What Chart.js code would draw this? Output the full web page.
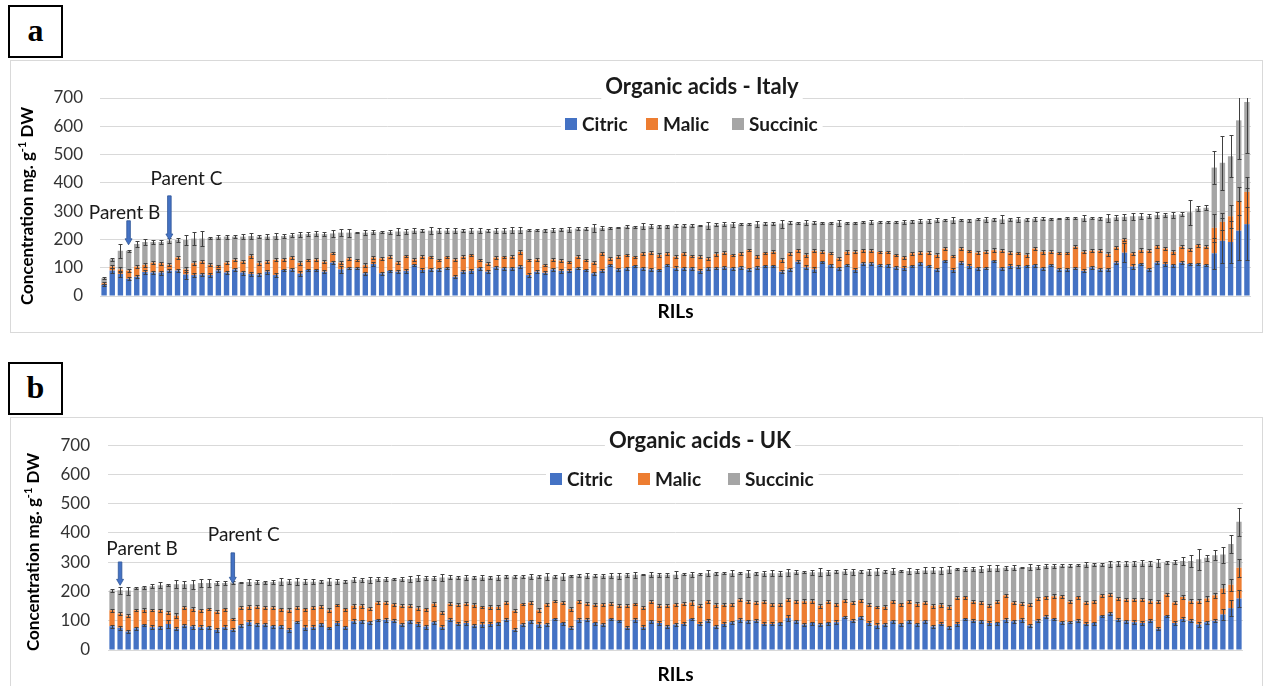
<!DOCTYPE html>
<html>
<head>
<meta charset="utf-8">
<script src="https://cdn.jsdelivr.net/npm/chart.js@4.4.1/dist/chart.umd.min.js"></script>
<style>
  html, body { margin: 0; padding: 0; background: #fff; }
  body { width: 1268px; height: 686px; position: relative; overflow: hidden; font-family: Lato, "Open Sans", sans-serif; }
  .tag { position: absolute; left: 8px; width: 51px; height: 49px; border: 2px solid #000;
         font: bold 32px "Liberation Serif", "Times New Roman", serif; text-align: center; line-height: 46px; color: #000; }
  .frame { position: absolute; left: 10px; width: 1253px; border: 1px solid #D9D9D9; box-sizing: border-box; }
  canvas { position: absolute; left: 10px; }
</style>
</head>
<body>
<div class="tag" style="top:5px">a</div>
<div class="frame" style="top:60px;height:273px"></div>
<canvas id="italy" width="1252" height="272" style="top:60px"></canvas>

<div class="tag" style="top:362px">b</div>
<div class="frame" style="top:417px;height:280px"></div>
<canvas id="uk" width="1252" height="269" style="top:417px"></canvas>

<script>
// ---- RIL lines (x categories, not labelled on the axis) ----
const rilLines = Array.from({ length: 141 }, (_, i) => 'RIL' + (i + 1));

// ---- Organic acids, Italy trial (mg g-1 DW) ----
const italyCitric = [
  39,90,78,61,68,85,83,83,90,90,
  76,74,76,74,90,83,94,83,78,76,
  86,74,92,94,79,92,92,86,118,94,
  98,98,80,113,80,89,86,89,109,92,
  94,94,98,68,86,89,98,86,101,98,
  98,104,74,86,82,94,89,89,98,92,
  80,89,109,94,98,106,98,94,92,109,
  98,98,98,89,98,98,101,98,101,94,
  101,106,106,86,94,121,101,94,121,109,
  98,109,92,115,115,109,109,101,99,106,
  116,106,94,125,92,118,106,98,98,125,
  98,106,104,106,109,98,109,94,94,98,
  89,101,94,94,118,153,104,113,94,118,
  113,109,118,113,113,109,151,195,191,231,254
];
const italyMalic = [
  6,14,16,29,36,25,35,33,20,46,
  18,42,46,36,16,35,34,39,64,40,
  36,54,38,43,38,35,37,35,33,24,
  35,29,29,23,53,50,33,52,20,47,
  45,33,41,61,53,56,29,29,35,41,
  41,52,53,43,27,35,36,32,41,35,
  38,62,24,45,47,33,53,59,53,42,
  41,53,43,50,35,50,52,47,50,68,
  40,47,50,41,57,41,44,66,35,42,
  35,47,64,47,45,47,47,44,38,45,
  38,47,51,43,49,50,54,55,58,37,
  62,47,49,39,59,58,47,59,59,76,
  67,59,66,54,54,47,47,49,66,58,
  55,47,56,52,67,65,90,67,91,105,114
];
const italySuccinic = [
  18,26,66,70,80,81,73,75,86,62,
  104,87,81,95,102,92,82,88,70,94,
  88,84,82,78,101,92,92,98,70,106,
  91,97,115,90,93,87,109,87,102,92,
  92,104,92,102,92,86,104,116,95,92,
  94,77,106,104,124,104,110,114,99,111,
  124,89,107,103,100,106,96,94,102,96,
  110,98,108,110,116,104,101,109,103,92,
  113,103,100,129,108,97,114,99,103,108,
  126,103,103,99,101,105,105,116,125,113,
  111,113,123,100,127,100,108,118,115,109,
  111,118,118,126,105,117,117,120,122,101,
  119,115,115,127,106,80,131,120,122,110,
  119,131,115,131,129,138,213,209,212,285,318
];
// standard errors, one per segment top
const italyCitricErr = [
  5,8,12,6,5,6,6,7,5,4,
  15,6,6,6,4,5,5,7,6,5,
  7,6,5,6,8,5,5,5,4,12,
  4,4,6,6,5,4,6,6,4,6,
  5,5,4,5,6,6,5,6,5,5,
  5,4,7,6,5,4,6,5,4,5,
  6,5,4,5,5,4,5,6,5,4,
  7,5,5,6,5,4,6,5,5,5,
  5,4,4,6,6,5,7,8,4,5,
  6,4,6,5,5,4,5,6,7,4,
  5,4,5,4,7,5,6,5,4,4,
  5,6,4,5,5,5,4,5,5,4,
  5,6,6,5,4,33,8,5,6,5,
  6,5,5,5,5,4,55,80,75,105,128
];
const italyMalicErr = [
  3,5,8,6,5,6,5,5,5,4,
  10,6,7,5,4,5,6,5,6,7,
  5,6,5,5,6,5,4,6,4,6,
  5,5,7,4,6,5,5,4,5,5,
  4,5,4,6,5,5,4,4,5,4,
  5,6,5,5,4,5,5,4,5,4,
  5,5,6,5,4,4,6,5,6,5,
  5,6,4,5,5,6,6,5,5,4,
  5,4,5,6,5,5,6,5,5,4,
  5,6,5,5,5,4,4,5,5,5,
  4,5,6,5,4,5,4,5,5,6,
  5,5,4,6,5,6,5,4,4,5,
  5,5,5,6,5,5,5,8,6,5,
  5,6,5,5,5,5,50,30,40,50,53
];
const italySuccinicErr = [
  3,5,25,4,10,12,6,8,10,8,
  18,22,27,5,6,7,5,9,10,6,
  10,9,7,6,8,7,8,6,12,12,
  14,3,10,8,5,6,12,10,8,6,
  12,9,10,8,6,10,8,5,9,8,
  10,10,3,4,5,8,6,10,5,6,
  14,8,4,3,6,4,10,6,5,5,
  5,5,6,3,13,6,6,9,4,3,
  11,5,4,14,5,3,9,6,4,3,
  10,3,4,4,6,3,4,3,6,5,
  8,7,7,3,10,4,5,4,8,6,
  14,5,8,6,7,5,4,2,3,4,
  10,3,5,14,8,10,12,10,8,12,
  8,10,7,45,8,8,59,95,75,135,180
];

// ---- Organic acids, UK trial (mg g-1 DW) ----
const ukCitric = [
  81,76,63,74,86,78,78,89,73,84,
  80,78,78,69,78,69,84,95,87,87,
  81,81,69,95,77,78,88,76,92,78,
  98,98,95,103,103,100,87,98,89,80,
  95,78,103,89,92,84,87,89,92,103,
  69,87,98,87,87,106,92,76,103,103,
  92,87,106,100,76,103,78,98,92,80,
  87,89,106,89,100,80,89,95,103,98,
  100,89,89,92,109,98,87,92,87,92,
  95,112,100,112,92,84,87,98,88,98,
  88,98,80,89,78,89,106,100,98,92,
  92,103,98,103,84,100,114,106,95,95,
  100,89,92,117,125,103,98,95,92,100,
  73,117,92,106,100,87,95,100,121,143,176
];
const ukMalic = [
  55,49,54,62,51,58,58,39,44,61,
  60,58,62,62,62,37,61,53,61,58,
  64,59,67,50,63,68,61,60,62,62,
  53,53,48,59,59,56,64,53,54,60,
  63,50,55,65,66,70,60,58,55,59,
  65,71,64,49,69,61,70,64,64,55,
  62,69,52,51,75,55,67,67,59,71,
  69,69,56,62,67,74,65,61,70,67,
  62,76,67,64,64,69,80,75,64,73,
  61,58,62,58,62,63,60,69,69,69,
  69,64,71,65,69,90,75,65,64,59,
  73,84,64,55,72,76,67,78,89,70,
  81,73,75,70,65,73,75,78,81,67,
  92,73,70,75,67,80,81,87,89,80,105
];
const ukSuccinic = [
  67,79,86,76,78,82,85,95,108,80,
  85,93,89,98,89,125,86,84,84,87,
  87,94,98,89,93,87,85,98,80,94,
  89,89,97,81,81,87,92,92,103,106,
  88,120,90,94,90,94,101,101,101,89,
  117,93,89,115,95,84,89,114,87,96,
  100,98,96,103,106,99,112,92,106,106,
  101,101,97,108,95,108,108,106,89,97,
  100,97,106,106,93,99,99,99,115,101,
  112,98,106,98,114,121,121,103,113,103,
  113,110,121,118,128,98,96,112,115,128,
  114,94,119,123,128,108,106,103,104,123,
  109,130,125,105,105,119,122,123,123,129,
  132,109,139,123,137,143,139,137,116,139,157
];
const ukCitricErr = [
  5,6,6,4,4,7,5,15,5,5,
  7,6,5,7,6,5,4,8,6,5,
  5,5,7,4,7,7,5,4,6,5,
  7,6,5,4,6,6,5,5,6,7,
  5,6,5,5,6,5,7,6,5,5,
  5,6,5,7,5,4,5,5,6,5,
  5,6,5,4,5,6,6,5,6,5,
  6,5,5,5,5,6,6,5,6,5,
  5,5,5,5,10,5,4,5,6,5,
  6,4,5,5,6,8,6,5,5,5,
  5,5,5,5,5,6,4,5,5,6,
  5,6,5,7,5,5,5,4,5,4,
  5,5,5,4,4,5,6,6,6,5,
  6,4,6,6,6,7,5,5,18,28,30
];
const ukMalicErr = [
  5,5,5,4,6,4,5,5,8,5,
  6,5,4,6,5,5,5,7,5,5,
  4,5,6,5,5,5,6,6,4,5,
  6,6,5,6,5,4,5,5,6,5,
  6,4,5,5,5,6,5,6,6,5,
  5,4,5,6,4,4,5,6,5,5,
  5,5,5,5,5,4,5,5,5,5,
  6,5,8,5,5,6,5,5,6,5,
  6,6,5,5,5,5,8,7,6,5,
  5,6,5,5,5,5,6,5,5,5,
  6,5,6,6,6,5,5,5,6,5,
  5,5,4,5,6,6,5,6,5,5,
  5,5,5,6,5,5,5,6,5,6,
  5,5,5,6,6,6,7,8,15,20,30
];
const ukSuccinicErr = [
  6,12,14,4,5,6,10,3,14,12,
  15,14,13,6,8,5,3,10,7,5,
  6,12,10,12,9,9,4,12,10,4,
  8,7,10,6,7,4,8,11,10,8,
  7,12,7,4,8,6,10,6,8,5,
  6,6,9,5,12,4,12,4,6,9,
  6,7,8,10,7,10,2,8,6,7,
  12,4,8,4,10,6,3,10,3,12,
  4,8,10,8,12,7,4,8,14,8,
  6,8,10,5,10,12,6,10,4,10,
  8,10,10,12,12,3,6,6,10,10,
  10,6,8,2,10,8,8,6,6,6,
  4,8,6,6,10,8,8,8,10,8,
  14,6,8,14,22,35,10,18,27,31,47
];

// ---- y axis ticks ----
const yTicks = [0, 100, 200, 300, 400, 500, 600, 700];

// ---- parental lines flagged with arrows (index into rilLines, values in mg g-1 DW) ----
const italyParents = [
  { label: 'Parent B', index: 3, tail: 266, tip: 181, textAt: 294, textShift: -4 },
  { label: 'Parent C', index: 8, tail: 354, tip: 198, textAt: 414, textShift: 17 }
];
const ukParents = [
  { label: 'Parent B', index: 1, tail: 301, tip: 221, textAt: 345, textShift: 22 },
  { label: 'Parent C', index: 15, tail: 332, tip: 228, textAt: 395, textShift: 11 }
];

const COLORS = { citric: '#4472C4', malic: '#ED7D31', succinic: '#A5A5A5' };
const FONT = 'Lato, "Open Sans", sans-serif';

// Error bars at the top of every stacked segment
const errorBars = {
  id: 'errorBars',
  afterDatasetsDraw(chart, args, opts) {
    const { ctx, chartArea: a, scales: { y } } = chart;
    const sets = chart.data.datasets;
    ctx.save();
    ctx.beginPath();
    ctx.rect(a.left, a.top, a.width, a.height);
    ctx.clip();
    ctx.strokeStyle = opts.color;
    ctx.lineWidth = 1;
    chart.data.labels.forEach((_, j) => {
      let top = 0;
      sets.forEach((ds, i) => {
        top += ds.data[j];
        const err = opts.errors[i][j];
        const x = Math.round(chart.getDatasetMeta(i).data[j].x) + 0.5;
        const y1 = Math.round(y.getPixelForValue(top + err)) + 0.5;
        const y2 = Math.round(y.getPixelForValue(top - err)) + 0.5;
        ctx.beginPath();
        ctx.moveTo(x, y1); ctx.lineTo(x, y2);
        ctx.moveTo(x - opts.cap, y1); ctx.lineTo(x + opts.cap, y1);
        ctx.moveTo(x - opts.cap, y2); ctx.lineTo(x + opts.cap, y2);
        ctx.stroke();
      });
    });
    ctx.restore();
  }
};

// Title, legend, y-axis caption and parent markers drawn over the plot
const overlay = {
  id: 'overlay',
  afterDraw(chart, args, o) {
    const { ctx, chartArea: a, scales: { x, y } } = chart;
    ctx.save();

    // chart title on a white patch
    ctx.font = `bold ${o.titleSize}px ${FONT}`;
    const tw = ctx.measureText(o.title).width;
    ctx.fillStyle = '#fff';
    ctx.fillRect(o.titleX - tw / 2 - 4, o.titleY - o.titleSize * 0.6, tw + 8, o.titleSize * 1.2);
    ctx.fillStyle = '#1a1a1a';
    ctx.textAlign = 'center';
    ctx.textBaseline = 'middle';
    ctx.fillText(o.title, o.titleX, o.titleY);

    // legend
    ctx.font = `bold ${o.legendSize}px ${FONT}`;
    ctx.textAlign = 'left';
    const sets = chart.data.datasets;
    const lastW = ctx.measureText(sets[sets.length - 1].label).width;
    const x0 = o.legendX[0] - 4, x1 = o.legendX[o.legendX.length - 1] + 18 + lastW + 4;
    ctx.fillStyle = '#fff';
    ctx.fillRect(x0, o.legendY - 11, x1 - x0, 22);
    sets.forEach((ds, i) => {
      const lx = o.legendX[i];
      ctx.fillStyle = ds.backgroundColor;
      ctx.fillRect(lx, o.legendY - 6, 12, 12);
      ctx.fillStyle = '#1a1a1a';
      ctx.fillText(ds.label, lx + 17, o.legendY + 1);
    });

    // y-axis caption with superscript
    ctx.translate(o.yTitleX, o.yTitleY);
    ctx.rotate(-Math.PI / 2);
    const big = `bold ${o.yTitleSize}px ${FONT}`;
    const small = `bold ${Math.round(o.yTitleSize * 0.62)}px ${FONT}`;
    const parts = [['Concentration mg. g', big, 0], ['-1', small, -6], [' DW', big, 0]];
    let total = 0;
    parts.forEach(p => { ctx.font = p[1]; p.push(ctx.measureText(p[0]).width); total += p[3]; });
    let px = -total / 2;
    ctx.fillStyle = '#000';
    ctx.textBaseline = 'middle';
    parts.forEach(p => { ctx.font = p[1]; ctx.fillText(p[0], px, p[2]); px += p[3]; });
    ctx.setTransform(1, 0, 0, 1, 0, 0);

    // parent arrows
    o.parents.forEach(p => {
      const bx = x.getPixelForValue(p.index);
      const yt = y.getPixelForValue(p.tail), yp = y.getPixelForValue(p.tip);
      ctx.fillStyle = COLORS.citric;
      ctx.strokeStyle = '#2F5597';
      ctx.lineWidth = 0.8;
      ctx.beginPath();
      ctx.moveTo(bx - 1.8, yt);
      ctx.lineTo(bx + 1.8, yt);
      ctx.lineTo(bx + 1.8, yp - 6);
      ctx.lineTo(bx + 3.5, yp - 6);
      ctx.lineTo(bx, yp);
      ctx.lineTo(bx - 3.5, yp - 6);
      ctx.lineTo(bx - 1.8, yp - 6);
      ctx.closePath();
      ctx.fill();
      ctx.stroke();
      ctx.font = `${o.parentSize}px ${FONT}`;
      ctx.fillStyle = '#1a1a1a';
      ctx.textAlign = 'center';
      ctx.textBaseline = 'middle';
      ctx.fillText(p.label, bx + p.textShift, y.getPixelForValue(p.textAt));
    });
    ctx.restore();
  }
};

function buildChart(id, series, errs, layout) {
  const [citric, malic, succinic] = series;
  return new Chart(document.getElementById(id), {
    type: 'bar',
    data: {
      labels: rilLines,
      datasets: [
        { label: 'Citric', data: citric, backgroundColor: COLORS.citric },
        { label: 'Malic', data: malic, backgroundColor: COLORS.malic },
        { label: 'Succinic', data: succinic, backgroundColor: COLORS.succinic }
      ].map(d => Object.assign(d, { stack: 'acids', borderWidth: 0, barPercentage: 0.66, categoryPercentage: 1 }))
    },
    options: {
      responsive: false,
      animation: false,
      layout: { padding: { left: 0, top: layout.top, right: layout.right, bottom: 0 } },
      plugins: {
        legend: { display: false },
        tooltip: { enabled: false },
        errorBars: { errors: errs, color: '#404040', cap: 2 },
        overlay: layout.overlay
      },
      scales: {
        x: {
          stacked: true,
          grid: { display: false },
          border: { display: false },
          ticks: { display: false },
          title: { display: true, text: 'RILs', color: '#000', font: { family: FONT, size: 19, weight: 'bold' }, padding: { top: 0, bottom: layout.xTitlePad } },
          afterFit: s => { s.height = layout.xHeight; }
        },
        y: {
          stacked: true,
          min: yTicks[0],
          max: yTicks[yTicks.length - 1],
          afterBuildTicks: s => { s.ticks = yTicks.map(v => ({ value: v })); },
          grid: { color: '#D9D9D9', drawTicks: false },
          border: { display: false },
          ticks: { padding: layout.tickPad, color: '#333333', font: { family: FONT, size: 17 } },
          afterFit: s => { s.width = layout.yWidth; }
        }
      }
    },
    plugins: [errorBars, overlay]
  });
}

buildChart('italy',
  [italyCitric, italyMalic, italySuccinic],
  [italyCitricErr, italyMalicErr, italySuccinicErr],
  {
    top: 38, right: 11, yWidth: 90, tickPad: 17, xHeight: 36, xTitlePad: 9,
    overlay: {
      title: 'Organic acids - Italy', titleSize: 22, titleX: 692, titleY: 27,
      legendSize: 19, legendX: [555, 636, 722], legendY: 64,
      yTitleSize: 17, yTitleX: 18, yTitleY: 146,
      parentSize: 19, parents: italyParents
    }
  });

buildChart('uk',
  [ukCitric, ukMalic, ukSuccinic],
  [ukCitricErr, ukMalicErr, ukSuccinicErr],
  {
    top: 24, right: 19, yWidth: 98, tickPad: 18, xHeight: 36, xTitlePad: 0,
    overlay: {
      title: 'Organic acids - UK', titleSize: 22, titleX: 690, titleY: 24,
      legendSize: 19, legendX: [540, 628, 718], legendY: 62,
      yTitleSize: 17, yTitleX: 24, yTitleY: 135,
      parentSize: 19, parents: ukParents
    }
  });
</script>
</body>
</html>
